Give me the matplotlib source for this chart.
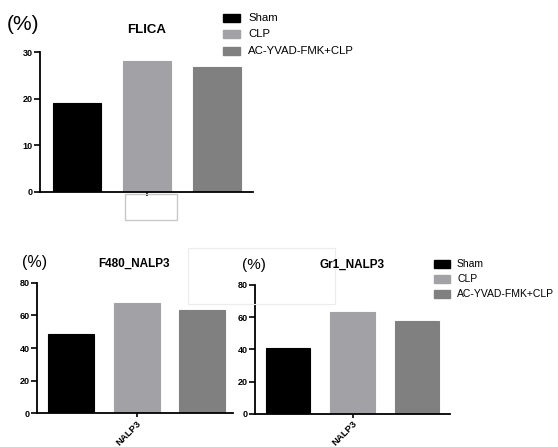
import matplotlib
matplotlib.use("Agg")
import matplotlib.pyplot as plt
from matplotlib.patches import Rectangle

plt.rcParams['font.family'] = ['Liberation Sans', 'DejaVu Sans']

# === DATA ===
groups = ['Sham', 'CLP', 'AC-YVAD-FMK+CLP']
colors = ['#000000', '#a2a2a6', '#808080']
flica = [19.1, 28.1, 26.7]
f480_nalp3 = [48.8, 67.4, 63.1]
gr1_nalp3 = [41.0, 63.0, 57.6]

W, H = 558, 447
fig = plt.figure(figsize=(W / 100, H / 100), dpi=100)


def px_axes(left, top, right, bottom):
    # pixel box -> figure fraction
    return fig.add_axes([left / W, 1 - bottom / H, (right - left) / W, (bottom - top) / H])


def bar_panel(ax, vals, ymax, step, xlim, width, tick_lbl=None):
    for i, v in enumerate(vals):
        ax.bar(i, v, width=width, color=colors[i], edgecolor=colors[i], linewidth=0.8, label=groups[i])
    ax.set_xlim(*xlim)
    ax.set_ylim(0, ymax)
    ax.set_yticks(range(0, ymax + 1, step))
    for s in ['top', 'right']:
        ax.spines[s].set_visible(False)
    for s in ['left', 'bottom']:
        ax.spines[s].set_linewidth(1.3)
    ax.tick_params(axis='y', direction='out', length=4.5, width=1.2, labelsize=6.5, pad=1)
    ax.tick_params(axis='x', direction='out', length=3, width=1.2, labelsize=6.8, pad=1)
    ax.set_xticks([1])
    if tick_lbl:
        ax.set_xticklabels([tick_lbl], rotation=45, ha='right', rotation_mode='anchor', fontweight='bold')
    else:
        ax.set_xticklabels([''])
    for t in ax.get_yticklabels():
        t.set_fontweight('bold')


# === TOP PANEL ===
ax1 = px_axes(40, 52, 253, 191.7)
bar_panel(ax1, flica, 30, 10, (-0.53, 2.52), 0.69)
fig.text(7 / W, 1 - 24 / H, '(%)', fontsize=15, va='center', ha='left')
fig.text(147 / W, 1 - 30 / H, 'FLICA', fontsize=9.5, fontweight='bold', ha='center', va='center')
fig.patches.append(Rectangle((125 / W, 1 - 220 / H), 52 / W, 26 / H, transform=fig.transFigure,
                             fill=False, edgecolor='#c8c8c8', linewidth=1))
leg_y = [18, 34, 51]
for i, g in enumerate(groups):
    fig.patches.append(Rectangle((223 / W, 1 - (leg_y[i] + 4) / H), 17 / W, 8 / H,
                                 transform=fig.transFigure, color=colors[i]))
    fig.text(248 / W, 1 - leg_y[i] / H, g, fontsize=8.2, va='center', ha='left')

# faint box
fig.patches.append(Rectangle((188 / W, 1 - 304 / H), 147 / W, 56 / H, transform=fig.transFigure,
                             fill=False, edgecolor='#ececec', linewidth=0.8))

# === BOTTOM LEFT ===
ax2 = px_axes(37, 282.7, 233, 413.3)
bar_panel(ax2, f480_nalp3, 80, 20, (-0.52, 2.47), 0.70, 'NALP3')
fig.text(22 / W, 1 - 262 / H, '(%)', fontsize=11.5, va='center', ha='left')
fig.text(134 / W, 1 - 264 / H, 'F480_NALP3', fontsize=8.5, fontweight='bold', ha='center', va='center')

# === BOTTOM RIGHT ===
ax3 = px_axes(255, 285, 450, 413.7)
bar_panel(ax3, gr1_nalp3, 80, 20, (-0.51, 2.51), 0.69, 'NALP3')
fig.text(242 / W, 1 - 265 / H, '(%)', fontsize=11, va='center', ha='left')
fig.text(352 / W, 1 - 265 / H, 'Gr1_NALP3', fontsize=8.5, fontweight='bold', ha='center', va='center')
leg_y2 = [264, 279, 294]
for i, g in enumerate(groups):
    fig.patches.append(Rectangle((434 / W, 1 - (leg_y2[i] + 4) / H), 16 / W, 8 / H,
                                 transform=fig.transFigure, color=colors[i]))
    fig.text(457 / W, 1 - leg_y2[i] / H, g, fontsize=7.5, va='center', ha='left')

fig.savefig('out.png', dpi=100)
